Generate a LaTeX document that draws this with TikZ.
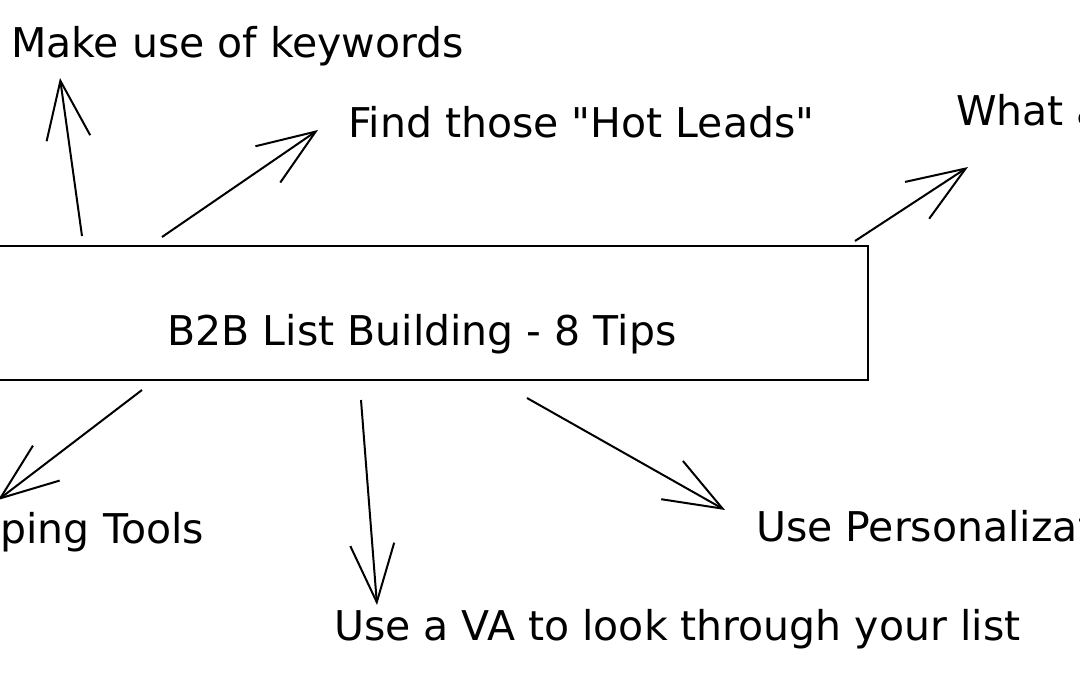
\documentclass[tikz,border=0pt]{standalone}
\usepackage{fontspec}
\setmainfont{DejaVu Sans}[Ligatures=TeXOff]
\usetikzlibrary{arrows.meta}
\begin{document}
\begin{tikzpicture}[x=1pt,y=-1pt,line width=2pt,
  tiptext/.style={font=\fontsize{41}{49}\selectfont,inner sep=0pt},
  link/.style={-{Straight Barb[length=58pt,width=44pt,line width=2pt]}}]
  \useasboundingbox (0,0) rectangle (1080,673);
  \clip (0,0) rectangle (1080,673);
  % centre box
  \node[draw,line width=2.5pt,minimum width=898pt,minimum height=134pt,inner sep=0pt] (hub) at (419,313) {};
  \node[tiptext,anchor=base] (title) at (422,345) {B2B List Building - 8 Tips};
  % tips
  \node[tiptext,anchor=base west] (kw) at (10,57) {Make use of keywords};
  \node[tiptext,anchor=base west] (hot) at (347,137) {Find those "Hot Leads"};
  \node[tiptext,anchor=base west] (what) at (955,125) {What a};
  \node[tiptext,anchor=base east] (scrape) at (205,543) {aping Tools};
  \node[tiptext,anchor=base west] (pers) at (755,541) {Use Personalizat};
  \node[tiptext,anchor=base west] (va) at (333,640) {Use a VA to look through your list};
  % arrow ends
  \coordinate (kwtail) at (82,236);   \coordinate (kwtip) at (60,78);
  \coordinate (hottail) at (162,237); \coordinate (hottip) at (318,130);
  \coordinate (whattail) at (855,241); \coordinate (whattip) at (968,167);
  \coordinate (scrtail) at (142,390); \coordinate (scrtip) at (-2,500);
  \coordinate (vatail) at (361,400);  \coordinate (vatip) at (377,605);
  \coordinate (perstail) at (527,398); \coordinate (perstip) at (725,510);
  \draw[link] (kwtail) -- (kwtip);
  \draw[link] (hottail) -- (hottip);
  \draw[link] (whattail) -- (whattip);
  \draw[link] (scrtail) -- (scrtip);
  \draw[link] (vatail) -- (vatip);
  \draw[link] (perstail) -- (perstip);
\end{tikzpicture}
\end{document}
